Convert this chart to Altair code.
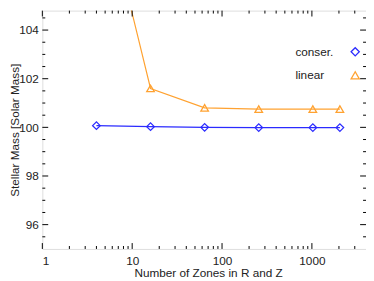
import altair as alt
import pandas as pd

# ---- data ----
zones = [4, 16, 64, 256, 1024, 2048]
conser = [100.07, 100.03, 100.00, 99.99, 99.99, 99.99]
linear = [110.7, 101.6, 100.80, 100.75, 100.75, 100.75]
series_names = ["conser.", "linear"]
series_colors = ["#2b2bff", "#ffa231"]
series_shapes = ["diamond", "triangle-up"]

x_major = [1, 10, 100, 1000]
x_minor = [2, 3, 4, 5, 6, 7, 8, 9, 20, 30, 40, 50, 60, 70, 80, 90,
           200, 300, 400, 500, 600, 700, 800, 900, 2000, 3000]
y_major = [96, 98, 100, 102, 104]
y_minor = [95.5, 96.5, 97, 97.5, 98.5, 99, 99.5, 100.5, 101, 101.5,
           102.5, 103, 103.5, 104.5]

W, H = 330, 243
FONT = "Liberation Sans"

df = pd.DataFrame({
    "zones": zones * 2,
    "mass": conser + linear,
    "series": [series_names[0]] * len(zones) + [series_names[1]] * len(zones),
})

xscale = alt.Scale(type="log", domain=[1, 4000], nice=False)
yscale = alt.Scale(domain=[95, 104.8], nice=False, zero=False)
cscale = alt.Scale(domain=series_names, range=series_colors)
sscale = alt.Scale(domain=series_names, range=series_shapes)

xaxis = alt.Axis(values=x_major, format="d", ticks=False, tickSize=0, domain=False,
                 grid=False, labelFontSize=12, labelPadding=7, labelFont=FONT,
                 labelColor="#222", title="Number of Zones in R and Z",
                 titleFont=FONT, titleFontSize=12, titleFontWeight="normal",
                 titleColor="#222", titleX=169, titleY=28, titleBaseline="alphabetic")
yaxis = alt.Axis(values=y_major, ticks=False, tickSize=0, domain=False, grid=False,
                 labelFontSize=12, labelPadding=4, labelFont=FONT, labelColor="#222",
                 title="Stellar Mass [Solar Mass]", titleFont=FONT, titleFontSize=12,
                 titleFontWeight="normal", titleColor="#222", titleX=-33,
                 titleY=H / 2, titleBaseline="top", titleAngle=270)

legend = alt.Legend(title=None, orient="none", legendX=313, legendY=36,
                    labelOffset={"expr": "-67"}, labelFont=FONT, labelFontSize=12,
                    labelColor="#222", symbolSize=70, symbolStrokeWidth=1.3,
                    rowPadding=10, padding=0)

base = alt.Chart(df)

lines = base.mark_line(strokeWidth=1.2, clip=True).encode(
    x=alt.X("zones:Q", scale=xscale, axis=xaxis),
    y=alt.Y("mass:Q", scale=yscale, axis=yaxis),
    color=alt.Color("series:N", scale=cscale),
    detail="series:N",
)

points = base.mark_point(filled=False, size=60, strokeWidth=1.3, clip=True, opacity=1).encode(
    x=alt.X("zones:Q", scale=xscale),
    y=alt.Y("mass:Q", scale=yscale),
    color=alt.Color("series:N", scale=cscale, legend=legend),
    shape=alt.Shape("series:N", scale=sscale, legend=legend),
)

def xticks(values, length):
    d = pd.DataFrame({"v": values})
    bot = alt.Chart(d).mark_rule(color="black", strokeWidth=1).encode(
        x=alt.X("v:Q", scale=xscale), y=alt.value(H), y2=alt.value(H - length))
    top = alt.Chart(d).mark_rule(color="black", strokeWidth=1).encode(
        x=alt.X("v:Q", scale=xscale), y=alt.value(0), y2=alt.value(length))
    return [bot, top]

def yticks(values, length):
    d = pd.DataFrame({"v": values})
    lft = alt.Chart(d).mark_rule(color="black", strokeWidth=1).encode(
        y=alt.Y("v:Q", scale=yscale), x=alt.value(0), x2=alt.value(length))
    rgt = alt.Chart(d).mark_rule(color="black", strokeWidth=1).encode(
        y=alt.Y("v:Q", scale=yscale), x=alt.value(W), x2=alt.value(W - length))
    return [lft, rgt]

ticks = xticks(x_major, 6) + xticks(x_minor, 3) + yticks(y_major, 6) + yticks(y_minor, 3)

chart = alt.layer(points, lines, *ticks).properties(
    width=W, height=H,
    autosize=alt.AutoSizeParams(type="none"),
    padding={"left": 35, "top": 0, "right": 0, "bottom": 30},
).configure_view(stroke="black", strokeWidth=1).configure(background="white")

chart.save("out.html", embed_options={"renderer": "svg", "actions": False})
